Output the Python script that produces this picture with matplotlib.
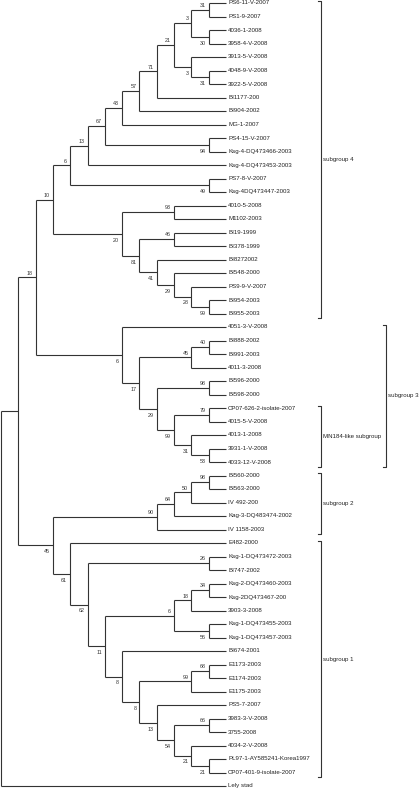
import matplotlib
matplotlib.use('Agg')
import matplotlib.pyplot as plt

plt.rcParams['font.family'] = ['Liberation Sans', 'DejaVu Sans']

# Tree topology with bootstrap values (Newick-like, names may contain spaces)
subgroup4 = ("((((((((((PS6-11-V-2007,PS1-9-2007)31,(4036-1-2008,3958-4-V-2008)30)3,"
             "(3913-5-V-2008,(4048-9-V-2008,3922-5-V-2008)31)3)21,BI1177-200)71,BI904-2002)57,"
             "MG-1-2007)43,(PS4-15-V-2007,Ksg-4-DQ473466-2003)94)67,Ksg-4-DQ473453-2003)13,"
             "(PS7-8-V-2007,Ksg-4DQ473447-2003)49)6,((4010-5-2008,M1102-2003)93,"
             "((BI19-1999,BI378-1999)46,(BI8272002,(BI548-2000,(PS9-9-V-2007,"
             "(BI954-2003,BI955-2003)99)28)29)41)81)20)10")
subgroup3 = ("(4051-3-V-2008,(((BI888-2002,BI991-2003)40,4011-3-2008)45,"
             "((BI596-2000,BI598-2000)98,((CP07-626-2-isolate-2007,4015-5-V-2008)79,"
             "(4013-1-2008,(3931-1-V-2008,4033-12-V-2008)53)31)99)29)17)6")
subgroup2 = "((((BI560-2000,BI563-2000)98,IV 492-200)50,Kag-3-DQ483474-2002)64,IV 1158-2003)90"
subgroup1 = ("(E482-2000,((Ksg-1-DQ473472-2003,BI747-2002)26,"
             "((((Ksg-2-DQ473460-2003,Ksg-2DQ473467-200)34,3903-3-2008)18,"
             "(Ksg-1-DQ473455-2003,Ksg-1-DQ473457-2003)56)6,"
             "(BI674-2001,(((E1173-2003,E1174-2003)68,E1175-2003)99,"
             "(PS5-7-2007,((3983-3-V-2008,3755-2008)66,(4034-2-V-2008,"
             "(PL97-1-AY585241-Korea1997,CP07-401-9-isolate-2007)21)21)54)13)8)8)11)62)61")
outgroup = "Lely stad"
tree_newick = "(((" + subgroup4 + "," + subgroup3 + ")18,(" + subgroup2 + "," + subgroup1 + ")45)," + outgroup + ");"

# Clade brackets
bracket_labels = ["subgroup 4", "subgroup 3", "MN184-like subgroup", "subgroup 2", "subgroup 1"]
bracket_first = ["PS6-11-V-2007", "4051-3-V-2008", "CP07-626-2-isolate-2007", "BI560-2000", "E482-2000"]
bracket_last = ["BI955-2003", "4033-12-V-2008", "4033-12-V-2008", "IV 1158-2003", "CP07-401-9-isolate-2007"]
bracket_column = [0, 1, 0, 0, 0]

# layout: nodes drawn at a column other than the leaf-aligned default (keyed by first leaf)
column_override = {"4010-5-2008": 3, "BI19-1999": 3}


def parse(s):
    pos = 0

    def node():
        nonlocal pos
        children = []
        if s[pos] == '(':
            pos += 1
            children.append(node())
            while s[pos] == ',':
                pos += 1
                children.append(node())
            pos += 1  # ')'
        start = pos
        while pos < len(s) and s[pos] not in ',();':
            pos += 1
        return {'label': s[start:pos], 'children': children}

    return node()


root = parse(tree_newick)

leaves = []


def assign(n):
    if not n['children']:
        n['y'] = len(leaves)
        n['h'] = 0
        n['first'] = n['label']
        leaves.append(n)
        return
    for c in n['children']:
        assign(c)
    n['h'] = 1 + max(c['h'] for c in n['children'])
    n['first'] = n['children'][0]['first']
    n['y'] = (n['children'][0]['y'] + n['children'][-1]['y']) / 2.0


assign(root)
H = root['h']


def setx(n):
    if n['children']:
        steps = column_override.get(n['first'], n['h']) if len(n['children']) and n['h'] == 1 else n['h']
        n['x'] = H - steps
    else:
        n['x'] = H
    for c in n['children']:
        setx(c)


setx(root)

W, Hpx = 420, 792
fig = plt.figure(figsize=(W / 100, Hpx / 100), dpi=100)
x0px, x1px = 1.0, 226.0
y0px, y1px = 3.0, 786.0
nleaf = len(leaves)
ax = fig.add_axes([x0px / W, 1 - y1px / Hpx, (x1px - x0px) / W, (y1px - y0px) / Hpx])
ax.set_xlim(0, H)
ax.set_ylim(nleaf - 1, 0)
ax.axis('off')

unit_x = H / (x1px - x0px)   # data units per px
unit_y = (nleaf - 1) / (y1px - y0px)

lc = '#333333'
lw = 0.8


def draw(n):
    if not n['children']:
        ax.text(n['x'] + 2 * unit_x, n['y'], n['label'], fontsize=4.4, va='center', ha='left',
                color='#222222', clip_on=False)
        return
    ys = [c['y'] for c in n['children']]
    ax.plot([n['x'], n['x']], [min(ys), max(ys)], color=lc, lw=lw, solid_capstyle='butt', clip_on=False)
    for i, c in enumerate(n['children']):
        ax.plot([n['x'], c['x']], [c['y'], c['y']], color=lc, lw=lw, solid_capstyle='butt', clip_on=False)
        if c['children'] and c['label']:
            dy = -4.3 if i == 0 else 6.3
            ax.text(c['x'] - 3 * unit_x, c['y'] + dy * unit_y, c['label'], fontsize=3.9,
                    ha='right', va='center', color='#333333', clip_on=False)
        draw(c)


draw(root)

leaf_y = {l['label']: l['y'] for l in leaves}
col_px = [321.0, 386.0]
for lab, a, b, col in zip(bracket_labels, bracket_first, bracket_last, bracket_column):
    bx = (col_px[col] - x0px) * unit_x
    ya = leaf_y[a] - 0.15
    yb = leaf_y[b] + 0.35
    tick = 3 * unit_x
    ax.plot([bx - tick, bx, bx, bx - tick], [ya, ya, yb, yb], color=lc, lw=lw, clip_on=False)
    ax.text(bx + 2 * unit_x, (ya + yb) / 2, lab, fontsize=4.4, ha='left', va='center',
            color='#222222', clip_on=False)

fig.savefig('out.png', dpi=100)
